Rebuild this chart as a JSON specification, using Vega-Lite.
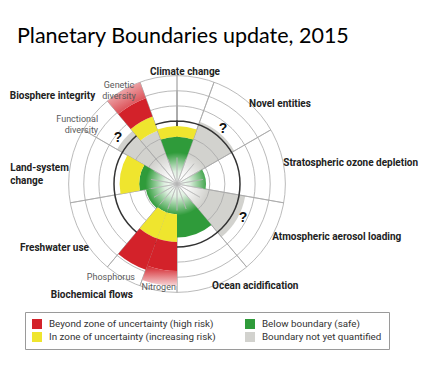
{
  "$schema": "https://vega.github.io/schema/vega-lite/v6.json",
  "width": 354,
  "height": 248,
  "autosize": {"type": "none"},
  "padding": {"left": 0, "top": 60, "right": 72, "bottom": 69},
  "background": "white",
  "title": {"text": "Planetary Boundaries update, 2015", "anchor": "start", "frame": "group", "dx": 17, "dy": 16, "offset": 12, "font": "Lato", "fontSize": 21.5, "fontWeight": "normal", "color": "#000000", "baseline": "alphabetic"},
  "config": {"view": {"stroke": null}},
  "datasets": {
    "rings": [{"t0": 0, "t1": 360, "r": 0.52}, {"t0": 0, "t1": 360, "r": 0.76}, {"t0": 0, "t1": 360, "r": 1.24}, {"t0": 0, "t1": 360, "r": 1.48}, {"t0": 0, "t1": 360, "r": 1.72}],
    "boundaryRing": [{"t0": 0, "t1": 360, "r": 1.0}],
    "centre": [{"t0": 0, "t1": 360, "r": 0.5}],
    "spokes": [{"a": 20, "r": 1.72}, {"a": 60, "r": 1.72}, {"a": 100, "r": 1.72}, {"a": 140, "r": 1.72}, {"a": 180, "r": 1.72}, {"a": 200, "r": 1.72}, {"a": 220, "r": 1.72}, {"a": 260, "r": 1.72}, {"a": 300, "r": 1.72}, {"a": 320, "r": 1.72}, {"a": 340, "r": 1.72}],
    "hub": [{"a": 0, "r": 0.42}, {"a": 20, "r": 0.42}, {"a": 40, "r": 0.42}, {"a": 60, "r": 0.42}, {"a": 80, "r": 0.42}, {"a": 100, "r": 0.42}, {"a": 120, "r": 0.42}, {"a": 140, "r": 0.42}, {"a": 160, "r": 0.42}, {"a": 180, "r": 0.42}, {"a": 200, "r": 0.42}, {"a": 220, "r": 0.42}, {"a": 240, "r": 0.42}, {"a": 260, "r": 0.42}, {"a": 280, "r": 0.42}, {"a": 300, "r": 0.42}, {"a": 320, "r": 0.42}, {"a": 340, "r": 0.42}],
    "sectors": [
      {"boundary": "Climate change", "t0": -20, "t1": 20, "r0": 0, "r1": 0.75, "status": "Below boundary (safe)"},
      {"boundary": "Climate change", "t0": -20, "t1": 20, "r0": 0.75, "r1": 0.92, "status": "In zone of uncertainty (increasing risk)"},
      {"boundary": "Novel entities", "t0": 20, "t1": 60, "r0": 0, "r1": 1.05, "status": "Boundary not yet quantified"},
      {"boundary": "Stratospheric ozone depletion", "t0": 60, "t1": 100, "r0": 0, "r1": 0.46, "status": "Below boundary (safe)"},
      {"boundary": "Atmospheric aerosol loading", "t0": 100, "t1": 140, "r0": 0, "r1": 1.1, "status": "Boundary not yet quantified"},
      {"boundary": "Ocean acidification", "t0": 140, "t1": 180, "r0": 0, "r1": 0.85, "status": "Below boundary (safe)"},
      {"boundary": "Nitrogen", "t0": 180, "t1": 200, "r0": 0, "r1": 0.48, "status": "Below boundary (safe)"},
      {"boundary": "Nitrogen", "t0": 180, "t1": 200, "r0": 0.48, "r1": 0.92, "status": "In zone of uncertainty (increasing risk)"},
      {"boundary": "Nitrogen", "t0": 180, "t1": 200, "r0": 0.92, "r1": 1.38, "status": "Beyond zone of uncertainty (high risk)"},
      {"boundary": "Phosphorus", "t0": 200, "t1": 220, "r0": 0, "r1": 0.48, "status": "Below boundary (safe)"},
      {"boundary": "Phosphorus", "t0": 200, "t1": 220, "r0": 0.48, "r1": 0.92, "status": "In zone of uncertainty (increasing risk)"},
      {"boundary": "Phosphorus", "t0": 200, "t1": 220, "r0": 0.92, "r1": 1.45, "status": "Beyond zone of uncertainty (high risk)"},
      {"boundary": "Freshwater use", "t0": 220, "t1": 260, "r0": 0, "r1": 0.5, "status": "Below boundary (safe)"},
      {"boundary": "Land-system change", "t0": 260, "t1": 300, "r0": 0, "r1": 0.6, "status": "Below boundary (safe)"},
      {"boundary": "Land-system change", "t0": 260, "t1": 300, "r0": 0.6, "r1": 0.91, "status": "In zone of uncertainty (increasing risk)"},
      {"boundary": "Functional diversity", "t0": 300, "t1": 320, "r0": 0, "r1": 1.1, "status": "Boundary not yet quantified"},
      {"boundary": "Genetic diversity", "t0": 320, "t1": 340, "r0": 0, "r1": 0.9, "status": "Boundary not yet quantified"},
      {"boundary": "Genetic diversity", "t0": 320, "t1": 340, "r0": 0.9, "r1": 1.14, "status": "In zone of uncertainty (increasing risk)"},
      {"boundary": "Genetic diversity", "t0": 320, "t1": 340, "r0": 1.14, "r1": 1.45, "status": "Beyond zone of uncertainty (high risk)"}
    ],
    "nitrogenTip": [{"boundary": "Nitrogen", "t0": 180, "t1": 200, "r0": 1.38, "r1": 1.62}],
    "geneticTip": [{"boundary": "Genetic diversity", "t0": 320, "t1": 340, "r0": 1.45, "r1": 1.72}],
    "boldCenter": [{"label": "Climate change", "a": 4.1, "r": 1.78}],
    "boldLeft": [
      {"label": "Novel entities", "a": 42, "r": 1.71},
      {"label": "Stratospheric ozone depletion", "a": 78.8, "r": 1.72},
      {"label": "Atmospheric aerosol loading", "a": 119.2, "r": 1.73},
      {"label": "Ocean acidification", "a": 161, "r": 1.71},
      {"label": "Biochemical flows", "a": 228.6, "r": 2.67},
      {"label": "Freshwater use", "a": 247.8, "r": 2.69},
      {"label": "Land-system\nchange", "a": 275.6, "r": 2.66},
      {"label": "Biosphere integrity", "a": 297.8, "r": 3.0}
    ],
    "subCenter": [{"label": "Genetic\ndiversity", "a": 329.6, "r": 1.82}],
    "subRight": [
      {"label": "Functional\ndiversity", "a": 309.4, "r": 1.62},
      {"label": "Phosphorus", "a": 204.3, "r": 1.62},
      {"label": "Nitrogen", "a": 180.6, "r": 1.63}
    ],
    "questions": [{"label": "?", "a": 308, "r": 1.19}, {"label": "?", "a": 39.9, "r": 1.14}, {"label": "?", "a": 117.3, "r": 1.18}]
  },
  "layer": [
    {
      "data": {"name": "sectors"},
      "transform": [{"filter": "datum.status == 'Boundary not yet quantified'"}],
      "mark": {"type": "arc", "stroke": null},
      "encoding": {
        "theta": {"field": "t0", "type": "quantitative", "stack": null, "scale": {"type": "linear", "domain": [0, 360], "range": [0, 6.283185307]}},
        "theta2": {"field": "t1"},
        "radius": {"field": "r1", "type": "quantitative", "scale": {"type": "linear", "domain": [0, 3.5], "range": [0, 220.5], "zero": true}},
        "radius2": {"field": "r0"},
        "color": {
          "field": "status", "type": "nominal",
          "scale": {
            "domain": ["Beyond zone of uncertainty (high risk)", "In zone of uncertainty (increasing risk)", "Below boundary (safe)", "Boundary not yet quantified"],
            "range": ["#d3222a", "#efe52e", "#2f9b3a", "#d2d2ce"]
          },
          "legend": {
            "title": null, "orient": "none", "legendX": 25, "legendY": 252, "columns": 2, "gridAlign": "each",
            "symbolType": "square", "symbolSize": 100, "symbolStrokeWidth": 0, "symbolOpacity": 1,
            "labelFont": "Roboto", "labelFontSize": 9.8, "labelColor": "#333333", "labelOffset": 7, "labelLimit": 300,
            "columnPadding": 29, "rowPadding": 3, "padding": 7, "strokeColor": "#9a9a9a", "fillColor": "#ffffff"
          }
        }
      }
    },
    {
      "data": {"name": "rings"},
      "mark": {"type": "arc", "fill": null, "stroke": "#a8a8a8", "strokeWidth": 0.8},
      "encoding": {
        "theta": {"field": "t0", "type": "quantitative", "stack": null, "scale": {"type": "linear", "domain": [0, 360], "range": [0, 6.283185307]}},
        "theta2": {"field": "t1"},
        "radius": {"field": "r", "type": "quantitative", "scale": {"type": "linear", "domain": [0, 3.5], "range": [0, 220.5], "zero": true}}
      }
    },
    {
      "data": {"name": "spokes"},
      "mark": {"type": "arc", "fill": null, "stroke": "#a8a8a8", "strokeWidth": 0.8},
      "encoding": {
        "theta": {"field": "a", "type": "quantitative", "stack": null, "scale": {"type": "linear", "domain": [0, 360], "range": [0, 6.283185307]}},
        "theta2": {"field": "a"},
        "radius": {"field": "r", "type": "quantitative", "scale": {"type": "linear", "domain": [0, 3.5], "range": [0, 220.5], "zero": true}}
      }
    },
    {
      "data": {"name": "boundaryRing"},
      "mark": {"type": "arc", "fill": null, "stroke": "#333333", "strokeWidth": 1.5},
      "encoding": {
        "theta": {"field": "t0", "type": "quantitative", "stack": null, "scale": {"type": "linear", "domain": [0, 360], "range": [0, 6.283185307]}},
        "theta2": {"field": "t1"},
        "radius": {"field": "r", "type": "quantitative", "scale": {"type": "linear", "domain": [0, 3.5], "range": [0, 220.5], "zero": true}}
      }
    },
    {
      "data": {"name": "sectors"},
      "transform": [{"filter": "datum.status != 'Boundary not yet quantified'"}],
      "mark": {"type": "arc", "stroke": null},
      "encoding": {
        "theta": {"field": "t0", "type": "quantitative", "stack": null, "scale": {"type": "linear", "domain": [0, 360], "range": [0, 6.283185307]}},
        "theta2": {"field": "t1"},
        "radius": {"field": "r1", "type": "quantitative", "scale": {"type": "linear", "domain": [0, 3.5], "range": [0, 220.5], "zero": true}},
        "radius2": {"field": "r0"},
        "color": {"field": "status", "type": "nominal"}
      }
    },
    {
      "data": {"name": "nitrogenTip"},
      "mark": {"type": "arc", "stroke": null, "fill": {"gradient": "linear", "x1": 0, "y1": 0, "x2": 0, "y2": 1, "stops": [{"offset": 0, "color": "#d3222a"}, {"offset": 1, "color": "#f7d8d9"}]}},
      "encoding": {
        "theta": {"field": "t0", "type": "quantitative", "stack": null, "scale": {"type": "linear", "domain": [0, 360], "range": [0, 6.283185307]}},
        "theta2": {"field": "t1"},
        "radius": {"field": "r1", "type": "quantitative", "scale": {"type": "linear", "domain": [0, 3.5], "range": [0, 220.5], "zero": true}},
        "radius2": {"field": "r0"}
      }
    },
    {
      "data": {"name": "geneticTip"},
      "mark": {"type": "arc", "stroke": null, "fill": {"gradient": "linear", "x1": 0.85, "y1": 1, "x2": 0.2, "y2": 0, "stops": [{"offset": 0, "color": "#d3222a"}, {"offset": 1, "color": "#f5d2d4"}]}},
      "encoding": {
        "theta": {"field": "t0", "type": "quantitative", "stack": null, "scale": {"type": "linear", "domain": [0, 360], "range": [0, 6.283185307]}},
        "theta2": {"field": "t1"},
        "radius": {"field": "r1", "type": "quantitative", "scale": {"type": "linear", "domain": [0, 3.5], "range": [0, 220.5], "zero": true}},
        "radius2": {"field": "r0"}
      }
    },
    {
      "data": {"name": "centre"},
      "mark": {"type": "arc", "stroke": null, "fill": {"gradient": "radial", "stops": [{"offset": 0, "color": "#ffffff"}, {"offset": 0.4, "color": "rgba(255,255,255,0.85)"}, {"offset": 1, "color": "rgba(255,255,255,0)"}]}},
      "encoding": {
        "theta": {"field": "t0", "type": "quantitative", "stack": null, "scale": {"type": "linear", "domain": [0, 360], "range": [0, 6.283185307]}},
        "theta2": {"field": "t1"},
        "radius": {"field": "r", "type": "quantitative", "scale": {"type": "linear", "domain": [0, 3.5], "range": [0, 220.5], "zero": true}}
      }
    },
    {
      "data": {"name": "hub"},
      "mark": {"type": "arc", "fill": null, "stroke": "#b5b5b5", "strokeWidth": 0.6},
      "encoding": {
        "theta": {"field": "a", "type": "quantitative", "stack": null, "scale": {"type": "linear", "domain": [0, 360], "range": [0, 6.283185307]}},
        "theta2": {"field": "a"},
        "radius": {"field": "r", "type": "quantitative", "scale": {"type": "linear", "domain": [0, 3.5], "range": [0, 220.5], "zero": true}}
      }
    },
    {
      "data": {"name": "boldCenter"},
      "mark": {"type": "text", "font": "Roboto", "fontSize": 10, "fontWeight": "bold", "color": "#222222", "align": "center", "baseline": "middle"},
      "encoding": {
        "theta": {"field": "a", "type": "quantitative", "stack": null, "scale": {"type": "linear", "domain": [0, 360], "range": [0, 6.283185307]}},
        "radius": {"field": "r", "type": "quantitative", "scale": {"type": "linear", "domain": [0, 3.5], "range": [0, 220.5], "zero": true}},
        "text": {"field": "label"}
      }
    },
    {
      "data": {"name": "boldLeft"},
      "mark": {"type": "text", "font": "Roboto", "fontSize": 10, "fontWeight": "bold", "color": "#222222", "align": "left", "baseline": "middle", "lineBreak": "\n", "lineHeight": 13},
      "encoding": {
        "theta": {"field": "a", "type": "quantitative", "stack": null, "scale": {"type": "linear", "domain": [0, 360], "range": [0, 6.283185307]}},
        "radius": {"field": "r", "type": "quantitative", "scale": {"type": "linear", "domain": [0, 3.5], "range": [0, 220.5], "zero": true}},
        "text": {"field": "label"}
      }
    },
    {
      "data": {"name": "subCenter"},
      "mark": {"type": "text", "font": "Roboto", "fontSize": 9, "color": "#5a5a5a", "align": "center", "baseline": "middle", "lineBreak": "\n", "lineHeight": 10.5},
      "encoding": {
        "theta": {"field": "a", "type": "quantitative", "stack": null, "scale": {"type": "linear", "domain": [0, 360], "range": [0, 6.283185307]}},
        "radius": {"field": "r", "type": "quantitative", "scale": {"type": "linear", "domain": [0, 3.5], "range": [0, 220.5], "zero": true}},
        "text": {"field": "label"}
      }
    },
    {
      "data": {"name": "subRight"},
      "mark": {"type": "text", "font": "Roboto", "fontSize": 9, "color": "#5a5a5a", "align": "right", "baseline": "middle", "lineBreak": "\n", "lineHeight": 10.5},
      "encoding": {
        "theta": {"field": "a", "type": "quantitative", "stack": null, "scale": {"type": "linear", "domain": [0, 360], "range": [0, 6.283185307]}},
        "radius": {"field": "r", "type": "quantitative", "scale": {"type": "linear", "domain": [0, 3.5], "range": [0, 220.5], "zero": true}},
        "text": {"field": "label"}
      }
    },
    {
      "data": {"name": "questions"},
      "mark": {"type": "text", "font": "Liberation Sans", "fontSize": 14, "fontWeight": "bold", "color": "#111111", "align": "center", "baseline": "middle"},
      "encoding": {
        "theta": {"field": "a", "type": "quantitative", "stack": null, "scale": {"type": "linear", "domain": [0, 360], "range": [0, 6.283185307]}},
        "radius": {"field": "r", "type": "quantitative", "scale": {"type": "linear", "domain": [0, 3.5], "range": [0, 220.5], "zero": true}},
        "text": {"field": "label"}
      }
    }
  ]
}
